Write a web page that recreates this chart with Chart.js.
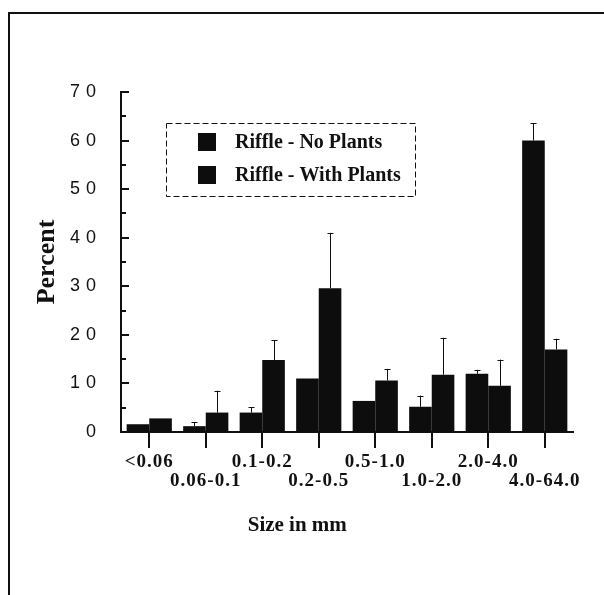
<!DOCTYPE html>
<html>
<head>
<meta charset="utf-8">
<script src="https://cdn.jsdelivr.net/npm/chart.js@4.4.1/dist/chart.umd.min.js"></script>
<style>
  html, body { margin: 0; padding: 0; background: #fff; }
  #wrap { position: relative; width: 604px; height: 595px; }
  #frame { position: absolute; left: 8px; top: 12px; width: 596px; height: 583px;
           border-top: 2px solid #111; border-left: 2px solid #111; box-sizing: border-box; }
  canvas { position: absolute; left: 0; top: 0; }
</style>
</head>
<body>
<div id="wrap">
  <div id="frame"></div>
  <canvas id="c" width="604" height="595"></canvas>
</div>
<script>
// ---- data ----
const categories = ['<0.06', '0.06-0.1', '0.1-0.2', '0.2-0.5', '0.5-1.0', '1.0-2.0', '2.0-4.0', '4.0-64.0'];
const seriesNames = ['Riffle - No Plants', 'Riffle - With Plants'];
const noPlants = [1.6, 1.2, 4.0, 11.0, 6.4, 5.2, 12.0, 60.0];
const withPlants = [2.8, 4.0, 14.8, 29.6, 10.6, 11.8, 9.5, 17.0];
const errNoPlants = [0, 0.8, 1.1, 0, 0, 2.3, 0.8, 3.6];
const errWithPlants = [0, 4.5, 4.1, 11.4, 2.4, 7.6, 5.4, 2.2];
const yTicks = [0, 10, 20, 30, 40, 50, 60, 70];
const yMinorStep = 5;
const xTitle = 'Size in mm';
const yTitle = 'Percent';

const serif = '"Liberation Serif", "Times New Roman", serif';
const sans = '"Liberation Sans", Arial, sans-serif';

function spaced(scale, px) {
  if (scale.__spaced) return;
  scale.__spaced = true;
  const orig = scale.drawLabels;
  scale.drawLabels = function (ca) {
    const ctx = this.ctx;
    ctx.save();
    try { ctx.letterSpacing = px; } catch (e) {}
    orig.call(this, ca);
    ctx.restore();
  };
}

const spacingPlugin = {
  id: 'spacing',
  afterLayout(chart) {
    spaced(chart.scales.y, '6px');
    spaced(chart.scales.x, '1px');
  }
};

const errorBarPlugin = {
  id: 'errorBars',
  afterDatasetsDraw(chart) {
    const ctx = chart.ctx;
    const errs = [errNoPlants, errWithPlants];
    const y = chart.scales.y;
    ctx.save();
    ctx.strokeStyle = '#111';
    ctx.lineWidth = 1;
    chart.data.datasets.forEach((ds, di) => {
      const meta = chart.getDatasetMeta(di);
      meta.data.forEach((bar, i) => {
        const e = errs[di][i];
        if (!e) return;
        const v = ds.data[i];
        const x = Math.round(bar.x) + 0.5;
        const y0 = y.getPixelForValue(v);
        const y1 = y.getPixelForValue(v + e);
        ctx.beginPath();
        ctx.moveTo(x, y0);
        ctx.lineTo(x, y1);
        ctx.moveTo(x - 3, Math.round(y1) + 0.5);
        ctx.lineTo(x + 3, Math.round(y1) + 0.5);
        ctx.stroke();
      });
    });
    ctx.restore();
  }
};

const decorPlugin = {
  id: 'decor',
  afterDraw(chart) {
    const ctx = chart.ctx;
    const a = chart.chartArea;
    const y = chart.scales.y;
    ctx.save();
    // inward ticks on the y axis
    ctx.strokeStyle = '#111';
    ctx.lineWidth = 2;
    for (let v = 0; v <= 70; v += yMinorStep) {
      const py = Math.round(y.getPixelForValue(v));
      const len = (v % 10 === 0) ? 8 : 5;
      ctx.beginPath();
      ctx.moveTo(a.left, py);
      ctx.lineTo(a.left + len, py);
      ctx.stroke();
    }
    // legend box
    const bx = a.left + 45, by = a.top + 31, bw = 249, bh = 73;
    ctx.lineWidth = 1;
    ctx.setLineDash([6, 3]);
    ctx.strokeRect(bx + 0.5, by + 0.5, bw, bh);
    ctx.setLineDash([]);
    ctx.font = 'bold 20px ' + serif;
    ctx.textBaseline = 'middle';
    ctx.textAlign = 'left';
    ctx.fillStyle = '#111';
    chart.data.datasets.forEach((ds, i) => {
      const cy = by + 19 + i * 33;
      ctx.fillStyle = ds.backgroundColor;
      ctx.fillRect(bx + 32, cy - 9, 18, 18);
      ctx.fillStyle = '#111';
      ctx.fillText(ds.label, bx + 69, cy + 1);
    });
    // x axis title
    ctx.font = 'bold 21px ' + serif;
    ctx.textAlign = 'center';
    ctx.fillText(xTitle, a.left + (a.right - a.left) * 0.39, 526);
    ctx.restore();
  }
};

new Chart(document.getElementById('c'), {
  type: 'bar',
  data: {
    labels: categories,
    datasets: [
      { label: seriesNames[0], data: noPlants, backgroundColor: '#0d0d0d', borderWidth: 0,
        categoryPercentage: 0.8, barPercentage: 1.0 },
      { label: seriesNames[1], data: withPlants, backgroundColor: '#0d0d0d', borderWidth: 0,
        categoryPercentage: 0.8, barPercentage: 1.0 }
    ]
  },
  options: {
    responsive: false,
    animation: false,
    devicePixelRatio: 1,
    layout: { padding: { left: 0, right: 31, top: 92, bottom: 0 } },
    plugins: { legend: { display: false }, tooltip: { enabled: false } },
    scales: {
      x: {
        offset: true,
        grid: { display: true, offset: false, drawOnChartArea: false, drawTicks: true,
                tickLength: 16, color: '#111', lineWidth: 2 },
        border: { display: true, color: '#111', width: 2 },
        ticks: {
          color: '#111', padding: 5, maxRotation: 0, autoSkip: false,
          font: { family: serif, size: 19, weight: 'bold', lineHeight: 1.0 },
          callback: function (val, i) { const l = categories[i]; return i % 2 === 0 ? [l] : ['', l]; }
        },
        afterFit(scale) { scale.height = 163; }
      },
      y: {
        min: 0, max: 70,
        afterBuildTicks(scale) { scale.ticks = yTicks.map(v => ({ value: v })); },
        grid: { display: false, drawTicks: false },
        border: { display: true, color: '#111', width: 2 },
        ticks: { color: '#111', padding: 19, font: { family: sans, size: 18 } },
        title: { display: true, text: yTitle, color: '#111',
                 font: { family: serif, size: 26, weight: 'bold' }, padding: { top: 32, bottom: 0 } },
        afterFit(scale) { scale.width = 121; }
      }
    }
  },
  plugins: [spacingPlugin, errorBarPlugin, decorPlugin]
});
</script>
</body>
</html>
